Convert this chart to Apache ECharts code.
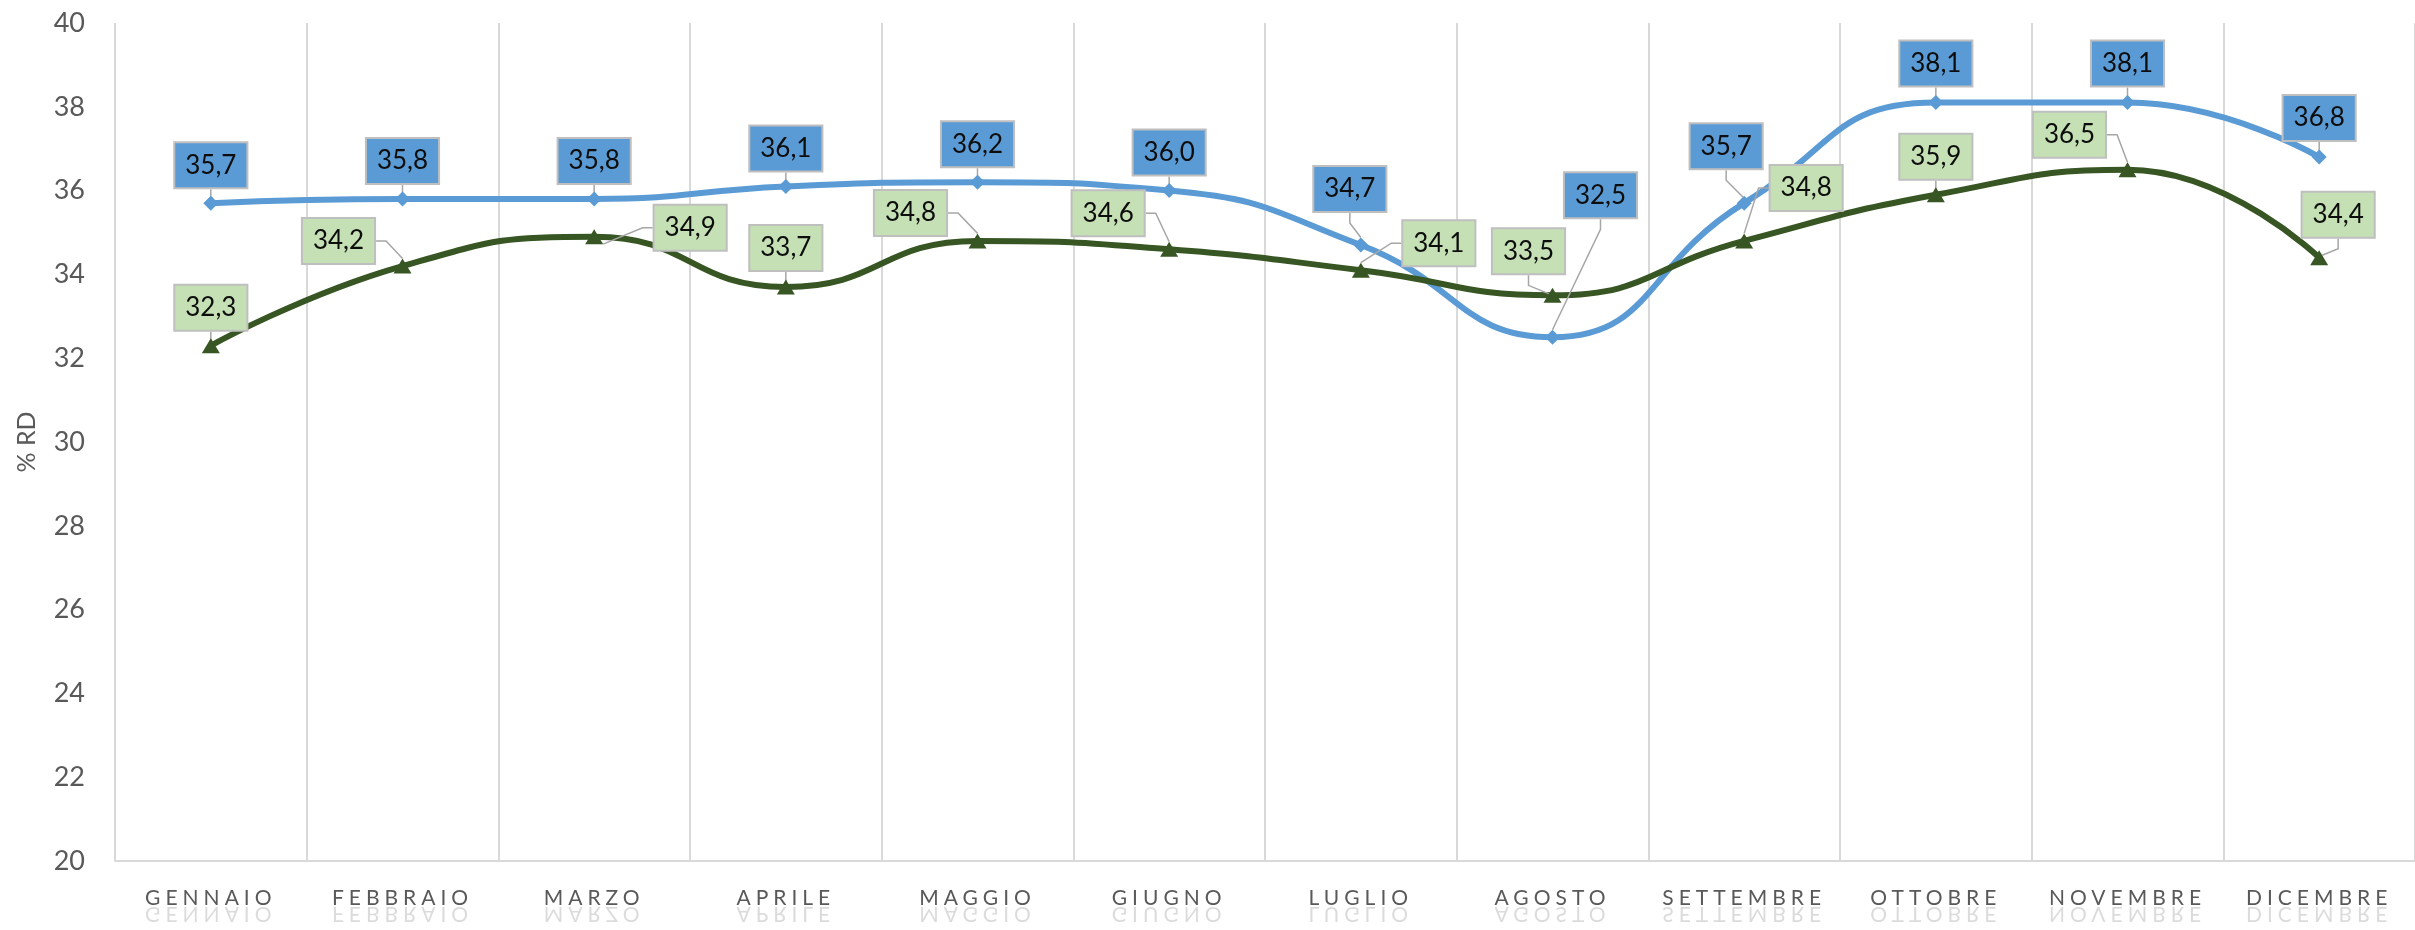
<!DOCTYPE html>
<html>
<head>
<meta charset="utf-8">
<script src="https://cdn.jsdelivr.net/npm/echarts@6/dist/echarts.min.js"></script>
<style>
  html, body { margin: 0; padding: 0; background: #ffffff; }
  #chart { width: 2415px; height: 930px; }
</style>
</head>
<body>
<div id="chart"></div>
<script>
// ---- data ----
const months = ['GENNAIO', 'FEBBRAIO', 'MARZO', 'APRILE', 'MAGGIO', 'GIUGNO',
                'LUGLIO', 'AGOSTO', 'SETTEMBRE', 'OTTOBRE', 'NOVEMBRE', 'DICEMBRE'];
const serieBlu = [35.7, 35.8, 35.8, 36.1, 36.2, 36.0, 34.7, 32.5, 35.7, 38.1, 38.1, 36.8];
const serieVerde = [32.3, 34.2, 34.9, 33.7, 34.8, 34.6, 34.1, 33.5, 34.8, 35.9, 36.5, 34.4];
const yMin = 20;
const yMax = 40;
const yStep = 2;
const yName = '% RD';

// ---- label offsets (layout only, relative to each point) ----
const offBlu = [[0,-38],[0,-38],[0,-38],[0,-38],[0,-38],[0,-38],[-11,-56],[48,-142],[-18,-57],[0,-39],[0,-39],[0,-39]];
const offVerde = [[0,-38],[-64,-25],[96,-9],[0,-39],[-67,-28],[-61,-36],[78,-27],[-24,-44],[62,-53],[0,-38],[-58,-35],[19,-43]];

// letter spacing for the category labels (canvas text only)
(function () {
  const proto = CanvasRenderingContext2D.prototype;
  const orig = proto.fillText;
  proto.fillText = function (t, x, y, w) {
    if ('letterSpacing' in this) {
      this.letterSpacing = /(^|\s)21px/.test(this.font) ? '5px' : '0px';
    }
    return w === undefined ? orig.call(this, t, x, y) : orig.call(this, t, x, y, w);
  };
})();

const fmt = v => v.toFixed(1).replace('.', ',');
const FONT = 'Lato';

function labelCfg(bg) {
  return {
    show: true,
    position: 'inside',
    formatter: p => fmt(p.value),
    fontFamily: FONT,
    fontSize: 26,
    lineHeight: 29,
    color: '#0d0d0d',
    backgroundColor: bg,
    borderColor: '#BFBFBF',
    borderWidth: 2,
    padding: [8, 10, 7, 10]
  };
}

const chart = echarts.init(document.getElementById('chart'), null, { renderer: 'canvas' });
chart.setOption({
  animation: false,
  backgroundColor: '#ffffff',
  grid: { left: 115, right: -10, top: 23, bottom: 69, containLabel: false },
  xAxis: {
    type: 'category',
    data: months,
    boundaryGap: true,
    axisLine: { show: true, lineStyle: { color: '#D9D9D9', width: 2 } },
    axisTick: { show: false },
    splitLine: { show: true, lineStyle: { color: '#D9D9D9', width: 2 } },
    axisLabel: { fontFamily: FONT, fontSize: 21, color: '#595959', margin: 27, interval: 0 }
  },
  yAxis: {
    type: 'value',
    min: yMin, max: yMax, interval: yStep,
    name: yName,
    nameLocation: 'middle',
    nameGap: 76,
    nameTextStyle: { fontFamily: FONT, fontSize: 25, color: '#595959' },
    axisLine: { show: false },
    axisTick: { show: false },
    splitLine: { show: false },
    axisLabel: { fontFamily: FONT, fontSize: 27, color: '#595959', margin: 30 }
  },
  series: [
    {
      name: 'blu',
      type: 'line',
      data: serieBlu,
      smooth: 0.5,
      symbol: 'diamond',
      symbolSize: 15,
      z: 3,
      lineStyle: { color: '#5B9BD5', width: 6 },
      itemStyle: { color: '#5B9BD5' },
      label: labelCfg('#5B9BD5'),
      labelLine: { show: true, length2: 10, lineStyle: { color: '#A6A6A6', width: 1.5 } },
      labelLayout: p => ({ dx: offBlu[p.dataIndex][0], dy: offBlu[p.dataIndex][1] })
    },
    {
      name: 'verde',
      type: 'line',
      data: serieVerde,
      smooth: 0.5,
      symbol: 'triangle',
      symbolSize: [18, 15],
      z: 3,
      lineStyle: { color: '#375623', width: 6 },
      itemStyle: { color: '#375623' },
      label: labelCfg('#C5E0B4'),
      labelLine: { show: true, length2: 10, lineStyle: { color: '#A6A6A6', width: 1.5 } },
      labelLayout: p => ({ dx: offVerde[p.dataIndex][0], dy: offVerde[p.dataIndex][1] })
    },
    {
      name: 'riflesso',
      type: 'custom',
      coordinateSystem: 'cartesian2d',
      silent: true,
      clip: false,
      z: 1,
      data: months.map((m, i) => [i, yMin]),
      renderItem: function (params, api) {
        const p = api.coord([api.value(0), api.value(1)]);
        return {
          type: 'text',
          x: p[0],
          y: p[1] + 42,
          scaleY: -1,
          style: {
            text: months[params.dataIndex],
            fill: '#595959',
            opacity: 0.22,
            font: '21px ' + FONT,
            align: 'center',
            verticalAlign: 'bottom'
          }
        };
      }
    }
  ]
});
</script>
</body>
</html>
